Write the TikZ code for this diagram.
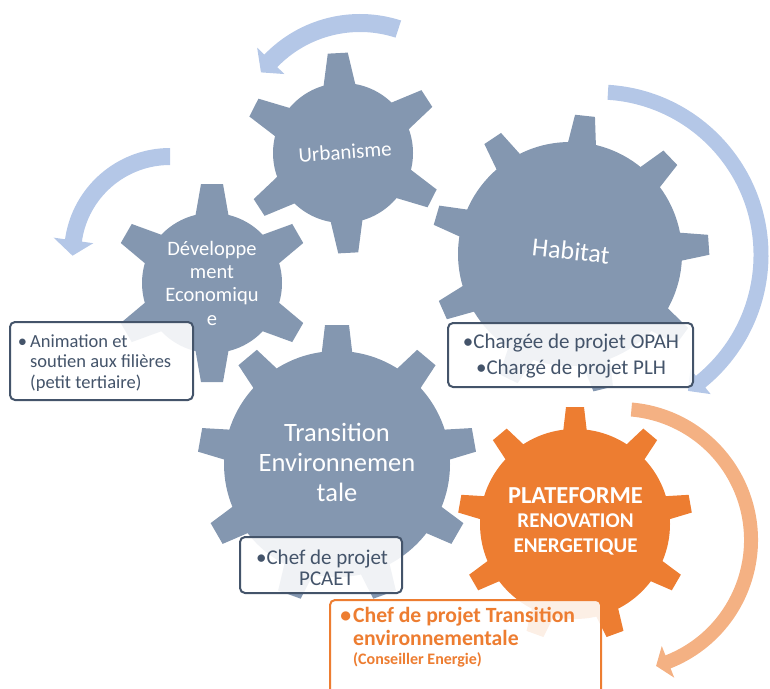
\documentclass[tikz,border=0pt]{standalone}
\usepackage{fontspec}
\setmainfont{Carlito}
\usetikzlibrary{calc}
\definecolor{gearblue}{HTML}{8497B0}
\definecolor{gearorange}{HTML}{ED7D31}
\definecolor{arrblue}{HTML}{B4C7E7}
\definecolor{arrorange}{HTML}{F4B183}
\definecolor{boxline}{HTML}{44546A}
\definecolor{boxtext}{HTML}{44546A}

% cx, cy (pixels, y down), r body, R outer, n teeth, offset angle, tip half width, base half width, colour
\newcommand{\mygear}[9]{%
  \fill[#9] (#1,-#2) circle[radius=#3];
  \pgfmathsetmacro{\gstep}{360/#5}%
  \pgfmathsetmacro{\gin}{#3-8}%
  \foreach \k in {1,...,#5}{%
    \pgfmathsetmacro{\ga}{#6+\k*\gstep}%
    \fill[#9, shift={(#1,-#2)}, rotate=\ga] (\gin,-#8) -- (#4,-#7) -- (#4,#7) -- (\gin,#8) -- cycle;
  }%
}
% cx, cy, Rmid, half thickness, start angle, head base angle, tip angle, head half width, colour
\newcommand{\myarrow}[9]{%
  \pgfmathsetmacro{\aro}{#3+#4}%
  \pgfmathsetmacro{\ari}{#3-#4}%
  \pgfmathsetmacro{\awo}{#3+#8}%
  \pgfmathsetmacro{\awi}{#3-#8}%
  \fill[#9] ($(#1,-#2)+(#5:\aro)$) arc[start angle=#5, end angle=#6, radius=\aro]
    -- ($(#1,-#2)+(#6:\awo)$) -- ($(#1,-#2)+(#7:#3)$) -- ($(#1,-#2)+(#6:\awi)$)
    -- ($(#1,-#2)+(#6:\ari)$) arc[start angle=#6, end angle=#5, radius=\ari] -- cycle;
}

\tikzset{
  geartext/.style={text=white, inner sep=0pt, align=center},
  infobox/.style={draw=boxline, line width=2pt, rounded corners=5pt, fill=white,
    fill opacity=0.88, text opacity=1, inner sep=0pt},
  orangebox/.style={infobox, draw=gearorange},
  boxtxt/.style={text=boxtext, inner sep=0pt},
}

\begin{document}
\begin{tikzpicture}[x=1pt,y=1pt]
\useasboundingbox (0,0) rectangle (770,-688);
\clip (0,0) rectangle (770,-688);

% curved arrows
\myarrow{360}{147}{124}{9}{72}{136}{143}{19}{arrblue}
\myarrow{170}{254}{97.5}{8.5}{90}{172}{181}{20}{arrblue}
\myarrow{598}{255}{163}{7.5}{86.5}{-51}{-56.5}{16}{arrblue}
\myarrow{620}{540}{131}{7}{85}{-68.5}{-74}{17}{arrorange}

% gears
\mygear{343}{153}{70}{100}{6}{33}{10}{17}{gearblue}
\mygear{212}{283}{70}{99}{6}{30}{11}{17.5}{gearblue}
\mygear{570}{254}{112}{139}{9}{3.8}{10}{15}{gearblue}
\mygear{337}{464}{113}{139}{9}{10}{12}{16}{gearblue}
\mygear{575}{524}{95}{117}{9}{10}{9}{12.5}{gearorange}

% gear labels
\node[geartext, rotate=4, font=\fontsize{21}{23}\selectfont] (urb) at (345,-152) {Urbanisme};
\node[geartext, font=\fontsize{20.5}{23.3}\selectfont] (dev) at (212,-283) {Développe\\ment\\Economiqu\\e};
\node[geartext, rotate=-6, font=\fontsize{26}{28}\selectfont] (hab) at (571,-251) {Habitat};
\node[geartext, font=\fontsize{26.5}{30}\selectfont] (tra) at (337,-462) {Transition\\Environnemen\\tale};
\node[geartext, font=\bfseries\fontsize{21}{24.5}\selectfont] (pla) at (575.5,-521)
  {{\fontsize{24.4}{24.5}\selectfont PLATEFORME}\\RENOVATION\\ENERGETIQUE};

% boxes
\node[infobox, minimum width=183pt, minimum height=78pt] (bdev) at (101.5,-361) {};
\node[boxtxt, anchor=west, align=left, font=\fontsize{18.5}{20.5}\selectfont] (tdev) at (30,-363)
  {\llap{•\hspace{3pt}}Animation et\\soutien aux filières\\(petit tertiaire)};

\node[infobox, minimum width=245pt, minimum height=64pt] (bhab) at (570.5,-355) {};
\node[boxtxt, align=center, font=\fontsize{21}{26}\selectfont] (thab) at (571,-356)
  {•Chargée de projet OPAH\\•Chargé de projet PLH};

\node[infobox, minimum width=162pt, minimum height=56pt] (btra) at (321,-565) {};
\node[boxtxt, align=center, font=\fontsize{21}{21.5}\selectfont] (ttra) at (322,-568)
  {•Chef de projet\\\hspace*{9pt}PCAET};

\node[orangebox, minimum width=271pt, minimum height=100pt] (bpla) at (465.5,-650) {};
\node[text=gearorange, inner sep=0pt, anchor=north west, align=left, font=\bfseries\fontsize{21.7}{23}\selectfont] (tpla) at (353,-607)
  {\llap{•\hspace{2pt}}Chef de projet Transition\\environnementale\\[-4pt]{\fontsize{16}{17}\selectfont (Conseiller Energie)}};
\end{tikzpicture}
\end{document}
